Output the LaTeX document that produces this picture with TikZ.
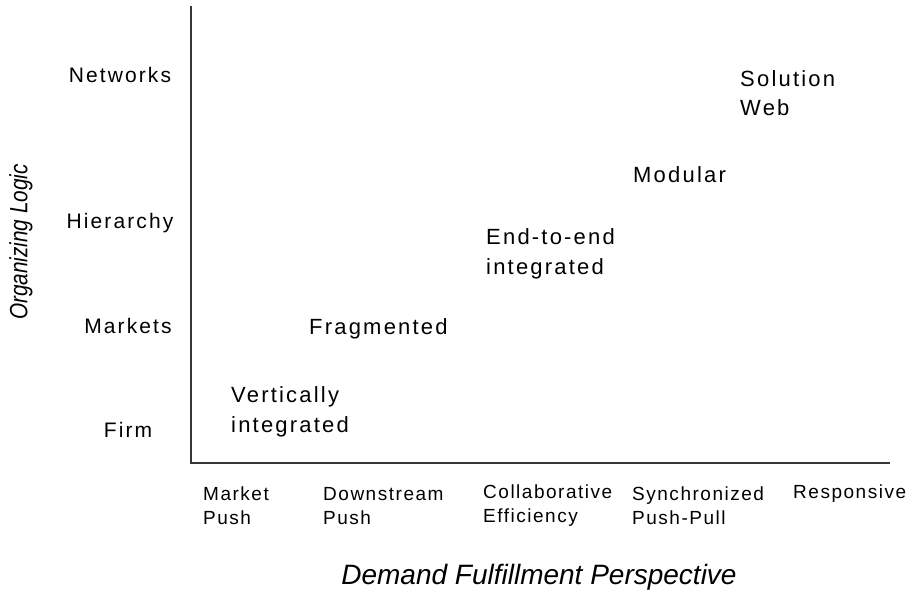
\documentclass[tikz,border=0pt]{standalone}
\usepackage{fontspec}
\setmainfont{Liberation Sans}
\newfontfamily\lblfont{Liberation Sans}[LetterSpace=10]
\newfontfamily\ylfont{Liberation Sans}[LetterSpace=10]
\newfontfamily\xlfont{Liberation Sans}[LetterSpace=8]
\newfontfamily\axfont{Liberation Sans}
\newfontfamily\ayfont{Liberation Sans}[FakeStretch=0.83]
\begin{document}
\begin{tikzpicture}[x=1pt,y=-1pt,
  lbl/.style={font=\lblfont\fontsize{22}{29.5}\selectfont,align=left,inner sep=0pt,anchor=west},
  ylbl/.style={font=\ylfont\fontsize{21}{24}\selectfont,inner sep=0pt},
  xlbl/.style={font=\xlfont\fontsize{19}{24}\selectfont,align=left,inner sep=0pt,anchor=west},
  axtitle/.style={font=\axfont\itshape\fontsize{28}{30}\selectfont,inner sep=0pt},
  aytitle/.style={font=\ayfont\itshape\fontsize{25}{28}\selectfont,inner sep=0pt},
  axis/.style={draw=black!78,line width=1.6pt}]
\useasboundingbox[fill=white] (0,0) rectangle (909,597);
% axes
\coordinate (top) at (191,6);
\coordinate (origin) at (191,463);
\coordinate (right) at (890,463);
\draw[axis] (top) -- (origin) -- (right);
% y labels
\node[ylbl] (net) at (120,75) {Networks};
\node[ylbl] (hier) at (120,223) {Hierarchy};
\node[ylbl] (mkt) at (128,326) {Markets};
\node[ylbl] (firm) at (128,430) {Firm};
% x labels
\node[xlbl] (mp) at (203,506) {Market\\Push};
\node[xlbl] (dp) at (323,506) {Downstream\\Push};
\node[xlbl] (ce) at (483,506) {Collaborative\\Efficiency};
\node[xlbl] (sp) at (632,506) {Synchronized\\Push-Pull};
\node[xlbl] (resp) at (793,494) {Responsive};
% data labels
\node[lbl] (vi) at (231,412) {Vertically\\integrated};
\node[lbl] (frag) at (309,329) {Fragmented};
\node[lbl] (e2e) at (486,254) {End-to-end\\integrated};
\node[lbl] (mod) at (633,175) {Modular};
\node[lbl] (sw) at (740,93) {Solution\\Web};
% axis titles
\node[axtitle] (xt) at (539,577) {Demand Fulfillment Perspective};
\node[aytitle,rotate=90] (yt) at (21,242) {Organizing Logic};
\end{tikzpicture}
\end{document}
